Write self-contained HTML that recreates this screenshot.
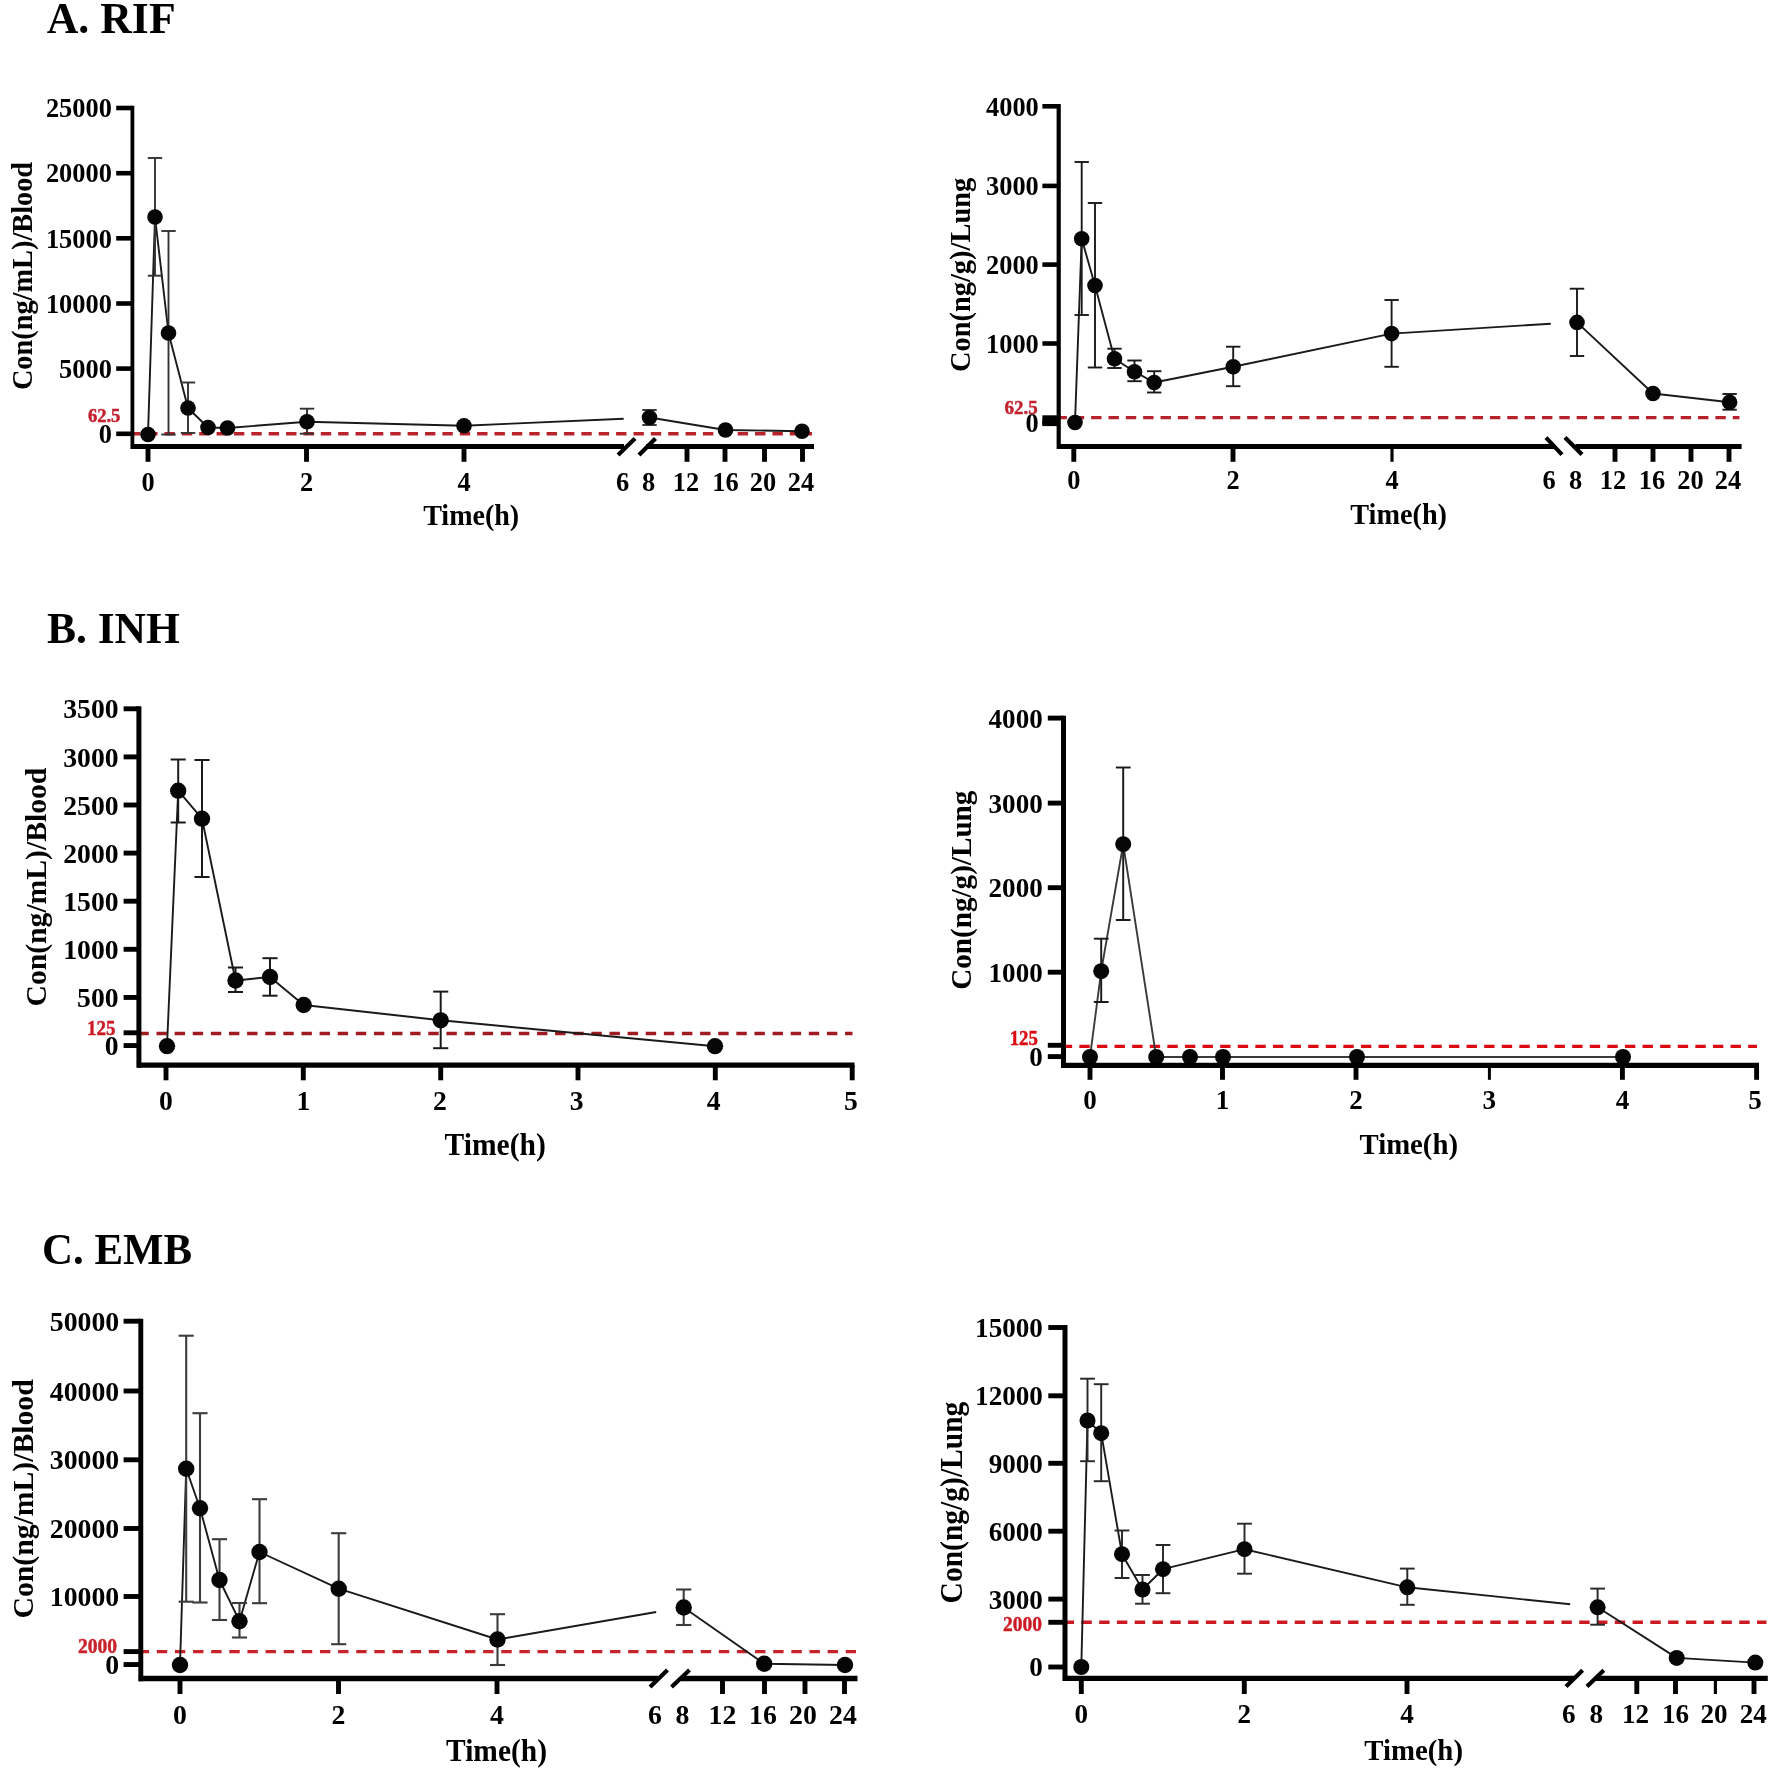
<!DOCTYPE html>
<html><head><meta charset="utf-8"><title>Figure</title>
<style>html,body{margin:0;padding:0;background:#fff}svg{display:block;filter:blur(0.55px)}text{font-family:'Liberation Serif', serif;font-weight:bold}</style>
</head><body>
<svg width="1772" height="1769" viewBox="0 0 1772 1769">
<rect width="1772" height="1769" fill="#fff"/>
<text x="46.70" y="32.90" font-size="44.8" text-anchor="start" fill="#000" textLength="129.0" lengthAdjust="spacingAndGlyphs">A. RIF</text>
<text x="46.90" y="643.00" font-size="44.8" text-anchor="start" fill="#000" textLength="133.0" lengthAdjust="spacingAndGlyphs">B. INH</text>
<text x="42.00" y="1264.20" font-size="44.8" text-anchor="start" fill="#000" textLength="150.0" lengthAdjust="spacingAndGlyphs">C. EMB</text>
<line x1="133.00" y1="433.80" x2="812.00" y2="433.80" stroke="#b8232c" stroke-width="3.4" stroke-dasharray="10.4 6.97" stroke-dashoffset="3.27"/>
<polyline points="148.00,434.50 155.00,217.00 168.50,333.00 188.00,408.00 208.00,427.50 227.50,428.00 307.00,421.70 464.00,425.70 623.70,418.70" fill="none" stroke="#1a1a1a" stroke-width="1.9" stroke-linejoin="round"/>
<polyline points="649.50,417.50 725.50,430.00 802.00,431.20" fill="none" stroke="#1a1a1a" stroke-width="1.9" stroke-linejoin="round"/>
<line x1="155.00" y1="158.00" x2="155.00" y2="275.70" stroke="#333" stroke-width="1.9" />
<line x1="147.80" y1="158.00" x2="162.20" y2="158.00" stroke="#333" stroke-width="1.9" />
<line x1="147.80" y1="275.70" x2="162.20" y2="275.70" stroke="#333" stroke-width="1.9" />
<line x1="168.50" y1="231.00" x2="168.50" y2="434.50" stroke="#333" stroke-width="1.9" />
<line x1="161.30" y1="231.00" x2="175.70" y2="231.00" stroke="#333" stroke-width="1.9" />
<line x1="161.30" y1="434.50" x2="175.70" y2="434.50" stroke="#333" stroke-width="1.9" />
<line x1="188.00" y1="382.50" x2="188.00" y2="433.00" stroke="#333" stroke-width="1.9" />
<line x1="180.80" y1="382.50" x2="195.20" y2="382.50" stroke="#333" stroke-width="1.9" />
<line x1="180.80" y1="433.00" x2="195.20" y2="433.00" stroke="#333" stroke-width="1.9" />
<line x1="307.00" y1="408.70" x2="307.00" y2="433.70" stroke="#333" stroke-width="1.9" />
<line x1="299.80" y1="408.70" x2="314.20" y2="408.70" stroke="#333" stroke-width="1.9" />
<line x1="299.80" y1="433.70" x2="314.20" y2="433.70" stroke="#333" stroke-width="1.9" />
<line x1="649.50" y1="410.00" x2="649.50" y2="425.00" stroke="#333" stroke-width="1.9" />
<line x1="642.30" y1="410.00" x2="656.70" y2="410.00" stroke="#333" stroke-width="1.9" />
<line x1="642.30" y1="425.00" x2="656.70" y2="425.00" stroke="#333" stroke-width="1.9" />
<circle cx="148.00" cy="434.50" r="7.80" fill="#060606"/>
<circle cx="155.00" cy="217.00" r="7.80" fill="#060606"/>
<circle cx="168.50" cy="333.00" r="7.80" fill="#060606"/>
<circle cx="188.00" cy="408.00" r="7.80" fill="#060606"/>
<circle cx="208.00" cy="427.50" r="7.80" fill="#060606"/>
<circle cx="227.50" cy="428.00" r="7.80" fill="#060606"/>
<circle cx="307.00" cy="421.70" r="7.80" fill="#060606"/>
<circle cx="464.00" cy="425.70" r="7.80" fill="#060606"/>
<circle cx="649.50" cy="417.50" r="7.80" fill="#060606"/>
<circle cx="725.50" cy="430.00" r="7.80" fill="#060606"/>
<circle cx="802.00" cy="431.20" r="7.80" fill="#060606"/>
<line x1="132.40" y1="105.70" x2="132.40" y2="449.00" stroke="#000" stroke-width="3.8" />
<line x1="116.20" y1="108.00" x2="132.40" y2="108.00" stroke="#000" stroke-width="4.6" />
<text x="111.90" y="117.20" font-size="26.4" text-anchor="end" fill="#000">25000</text>
<line x1="116.20" y1="173.20" x2="132.40" y2="173.20" stroke="#000" stroke-width="4.6" />
<text x="111.90" y="182.40" font-size="26.4" text-anchor="end" fill="#000">20000</text>
<line x1="116.20" y1="238.30" x2="132.40" y2="238.30" stroke="#000" stroke-width="4.6" />
<text x="111.90" y="247.50" font-size="26.4" text-anchor="end" fill="#000">15000</text>
<line x1="116.20" y1="303.50" x2="132.40" y2="303.50" stroke="#000" stroke-width="4.6" />
<text x="111.90" y="312.70" font-size="26.4" text-anchor="end" fill="#000">10000</text>
<line x1="116.20" y1="368.60" x2="132.40" y2="368.60" stroke="#000" stroke-width="4.6" />
<text x="111.90" y="377.80" font-size="26.4" text-anchor="end" fill="#000">5000</text>
<line x1="116.20" y1="433.80" x2="132.40" y2="433.80" stroke="#000" stroke-width="4.6" />
<text x="111.90" y="443.00" font-size="26.4" text-anchor="end" fill="#000">0</text>
<line x1="130.90" y1="446.50" x2="624.00" y2="446.50" stroke="#000" stroke-width="5" />
<line x1="646.00" y1="446.50" x2="814.00" y2="446.50" stroke="#000" stroke-width="5" />
<line x1="148.00" y1="446.50" x2="148.00" y2="461.80" stroke="#000" stroke-width="4.9" />
<line x1="306.50" y1="446.50" x2="306.50" y2="461.80" stroke="#000" stroke-width="4.9" />
<line x1="464.00" y1="446.50" x2="464.00" y2="461.80" stroke="#000" stroke-width="4.9" />
<line x1="687.00" y1="446.50" x2="687.00" y2="461.80" stroke="#000" stroke-width="4.9" />
<line x1="725.00" y1="446.50" x2="725.00" y2="461.80" stroke="#000" stroke-width="4.9" />
<line x1="764.50" y1="446.50" x2="764.50" y2="461.80" stroke="#000" stroke-width="4.9" />
<line x1="802.50" y1="446.50" x2="802.50" y2="461.80" stroke="#000" stroke-width="4.9" />
<text x="148.00" y="490.60" font-size="26.4" text-anchor="middle" fill="#000">0</text>
<text x="306.50" y="490.60" font-size="26.4" text-anchor="middle" fill="#000">2</text>
<text x="464.00" y="490.60" font-size="26.4" text-anchor="middle" fill="#000">4</text>
<text x="622.50" y="490.60" font-size="26.4" text-anchor="middle" fill="#000">6</text>
<text x="648.70" y="490.60" font-size="26.4" text-anchor="middle" fill="#000">8</text>
<text x="686.00" y="490.60" font-size="26.4" text-anchor="middle" fill="#000">12</text>
<text x="725.50" y="490.60" font-size="26.4" text-anchor="middle" fill="#000">16</text>
<text x="763.00" y="490.60" font-size="26.4" text-anchor="middle" fill="#000">20</text>
<text x="801.00" y="490.60" font-size="26.4" text-anchor="middle" fill="#000">24</text>
<line x1="618.00" y1="455.00" x2="635.00" y2="438.50" stroke="#000" stroke-width="4.2" />
<line x1="639.00" y1="455.00" x2="655.50" y2="438.50" stroke="#000" stroke-width="4.2" />
<text x="120.40" y="422.20" font-size="18.5" text-anchor="end" fill="#c4202e" stroke="#c4202e" stroke-width="0.45" textLength="32.5" lengthAdjust="spacingAndGlyphs">62.5</text>
<text x="471.20" y="525.30" font-size="29.5" text-anchor="middle" fill="#000" textLength="96.0" lengthAdjust="spacingAndGlyphs">Time(h)</text>
<text x="32.10" y="276.00" font-size="29.4" text-anchor="middle" fill="#000" textLength="228.2" lengthAdjust="spacingAndGlyphs" transform="rotate(-90 32.10 276.00)">Con(ng/mL)/Blood</text>
<line x1="1059.50" y1="417.60" x2="1739.50" y2="417.60" stroke="#b5222b" stroke-width="3.4" stroke-dasharray="10.4 6.94" stroke-dashoffset="3.04"/>
<polyline points="1075.00,422.50 1081.70,238.70 1095.00,285.50 1114.50,358.70 1134.50,371.70 1154.20,382.50 1233.20,366.70 1391.60,333.60 1550.80,323.70" fill="none" stroke="#1a1a1a" stroke-width="1.9" stroke-linejoin="round"/>
<polyline points="1577.00,322.40 1653.00,393.50 1729.60,402.20" fill="none" stroke="#1a1a1a" stroke-width="1.9" stroke-linejoin="round"/>
<line x1="1081.70" y1="162.00" x2="1081.70" y2="315.00" stroke="#1a1a1a" stroke-width="1.9" />
<line x1="1074.50" y1="162.00" x2="1088.90" y2="162.00" stroke="#1a1a1a" stroke-width="1.9" />
<line x1="1074.50" y1="315.00" x2="1088.90" y2="315.00" stroke="#1a1a1a" stroke-width="1.9" />
<line x1="1095.00" y1="203.00" x2="1095.00" y2="367.50" stroke="#1a1a1a" stroke-width="1.9" />
<line x1="1087.80" y1="203.00" x2="1102.20" y2="203.00" stroke="#1a1a1a" stroke-width="1.9" />
<line x1="1087.80" y1="367.50" x2="1102.20" y2="367.50" stroke="#1a1a1a" stroke-width="1.9" />
<line x1="1114.50" y1="348.70" x2="1114.50" y2="368.00" stroke="#1a1a1a" stroke-width="1.9" />
<line x1="1107.30" y1="348.70" x2="1121.70" y2="348.70" stroke="#1a1a1a" stroke-width="1.9" />
<line x1="1107.30" y1="368.00" x2="1121.70" y2="368.00" stroke="#1a1a1a" stroke-width="1.9" />
<line x1="1134.50" y1="360.50" x2="1134.50" y2="381.20" stroke="#1a1a1a" stroke-width="1.9" />
<line x1="1127.30" y1="360.50" x2="1141.70" y2="360.50" stroke="#1a1a1a" stroke-width="1.9" />
<line x1="1127.30" y1="381.20" x2="1141.70" y2="381.20" stroke="#1a1a1a" stroke-width="1.9" />
<line x1="1154.20" y1="371.20" x2="1154.20" y2="392.50" stroke="#1a1a1a" stroke-width="1.9" />
<line x1="1147.00" y1="371.20" x2="1161.40" y2="371.20" stroke="#1a1a1a" stroke-width="1.9" />
<line x1="1147.00" y1="392.50" x2="1161.40" y2="392.50" stroke="#1a1a1a" stroke-width="1.9" />
<line x1="1233.20" y1="346.70" x2="1233.20" y2="386.20" stroke="#1a1a1a" stroke-width="1.9" />
<line x1="1226.00" y1="346.70" x2="1240.40" y2="346.70" stroke="#1a1a1a" stroke-width="1.9" />
<line x1="1226.00" y1="386.20" x2="1240.40" y2="386.20" stroke="#1a1a1a" stroke-width="1.9" />
<line x1="1391.60" y1="300.00" x2="1391.60" y2="366.80" stroke="#1a1a1a" stroke-width="1.9" />
<line x1="1384.40" y1="300.00" x2="1398.80" y2="300.00" stroke="#1a1a1a" stroke-width="1.9" />
<line x1="1384.40" y1="366.80" x2="1398.80" y2="366.80" stroke="#1a1a1a" stroke-width="1.9" />
<line x1="1577.00" y1="288.70" x2="1577.00" y2="356.00" stroke="#1a1a1a" stroke-width="1.9" />
<line x1="1569.80" y1="288.70" x2="1584.20" y2="288.70" stroke="#1a1a1a" stroke-width="1.9" />
<line x1="1569.80" y1="356.00" x2="1584.20" y2="356.00" stroke="#1a1a1a" stroke-width="1.9" />
<line x1="1729.60" y1="394.00" x2="1729.60" y2="409.70" stroke="#1a1a1a" stroke-width="1.9" />
<line x1="1722.40" y1="394.00" x2="1736.80" y2="394.00" stroke="#1a1a1a" stroke-width="1.9" />
<line x1="1722.40" y1="409.70" x2="1736.80" y2="409.70" stroke="#1a1a1a" stroke-width="1.9" />
<circle cx="1075.00" cy="422.50" r="7.80" fill="#060606"/>
<circle cx="1081.70" cy="238.70" r="7.80" fill="#060606"/>
<circle cx="1095.00" cy="285.50" r="7.80" fill="#060606"/>
<circle cx="1114.50" cy="358.70" r="7.80" fill="#060606"/>
<circle cx="1134.50" cy="371.70" r="7.80" fill="#060606"/>
<circle cx="1154.20" cy="382.50" r="7.80" fill="#060606"/>
<circle cx="1233.20" cy="366.70" r="7.80" fill="#060606"/>
<circle cx="1391.60" cy="333.60" r="7.80" fill="#060606"/>
<circle cx="1577.00" cy="322.40" r="7.80" fill="#060606"/>
<circle cx="1653.00" cy="393.50" r="7.80" fill="#060606"/>
<circle cx="1729.60" cy="402.20" r="7.80" fill="#060606"/>
<line x1="1058.70" y1="104.00" x2="1058.70" y2="449.10" stroke="#000" stroke-width="4.2" />
<line x1="1042.40" y1="106.30" x2="1058.70" y2="106.30" stroke="#000" stroke-width="4.6" />
<text x="1038.80" y="115.50" font-size="26.4" text-anchor="end" fill="#000">4000</text>
<line x1="1042.40" y1="185.90" x2="1058.70" y2="185.90" stroke="#000" stroke-width="4.6" />
<text x="1038.80" y="195.10" font-size="26.4" text-anchor="end" fill="#000">3000</text>
<line x1="1042.40" y1="264.60" x2="1058.70" y2="264.60" stroke="#000" stroke-width="4.6" />
<text x="1038.80" y="273.80" font-size="26.4" text-anchor="end" fill="#000">2000</text>
<line x1="1042.40" y1="343.50" x2="1058.70" y2="343.50" stroke="#000" stroke-width="4.6" />
<text x="1038.80" y="352.70" font-size="26.4" text-anchor="end" fill="#000">1000</text>
<line x1="1042.40" y1="422.80" x2="1058.70" y2="422.80" stroke="#000" stroke-width="4.6" />
<text x="1038.80" y="432.00" font-size="26.4" text-anchor="end" fill="#000">0</text>
<line x1="1042.40" y1="417.60" x2="1058.70" y2="417.60" stroke="#000" stroke-width="4.6" />
<line x1="1042.40" y1="420.60" x2="1058.70" y2="420.60" stroke="#000" stroke-width="4.6" />
<line x1="1042.40" y1="423.80" x2="1058.70" y2="423.80" stroke="#000" stroke-width="4.6" />
<line x1="1057.40" y1="446.60" x2="1554.00" y2="446.60" stroke="#000" stroke-width="5" />
<line x1="1575.50" y1="446.60" x2="1741.60" y2="446.60" stroke="#000" stroke-width="5" />
<line x1="1073.80" y1="446.60" x2="1073.80" y2="461.80" stroke="#000" stroke-width="4.9" />
<line x1="1233.00" y1="446.60" x2="1233.00" y2="461.80" stroke="#000" stroke-width="4.9" />
<line x1="1392.00" y1="446.60" x2="1392.00" y2="461.80" stroke="#000" stroke-width="3.2" />
<line x1="1615.00" y1="446.60" x2="1615.00" y2="461.80" stroke="#000" stroke-width="4.9" />
<line x1="1653.00" y1="446.60" x2="1653.00" y2="461.80" stroke="#000" stroke-width="4.9" />
<line x1="1691.00" y1="446.60" x2="1691.00" y2="461.80" stroke="#000" stroke-width="4.9" />
<line x1="1729.00" y1="446.60" x2="1729.00" y2="461.80" stroke="#000" stroke-width="4.9" />
<text x="1073.80" y="489.40" font-size="26.4" text-anchor="middle" fill="#000">0</text>
<text x="1233.00" y="489.40" font-size="26.4" text-anchor="middle" fill="#000">2</text>
<text x="1392.00" y="489.40" font-size="26.4" text-anchor="middle" fill="#000">4</text>
<text x="1549.00" y="489.40" font-size="26.4" text-anchor="middle" fill="#000">6</text>
<text x="1575.70" y="489.40" font-size="26.4" text-anchor="middle" fill="#000">8</text>
<text x="1613.00" y="489.40" font-size="26.4" text-anchor="middle" fill="#000">12</text>
<text x="1652.00" y="489.40" font-size="26.4" text-anchor="middle" fill="#000">16</text>
<text x="1690.40" y="489.40" font-size="26.4" text-anchor="middle" fill="#000">20</text>
<text x="1728.00" y="489.40" font-size="26.4" text-anchor="middle" fill="#000">24</text>
<line x1="1546.00" y1="437.60" x2="1562.00" y2="454.60" stroke="#000" stroke-width="4.2" />
<line x1="1565.00" y1="437.60" x2="1582.00" y2="454.60" stroke="#000" stroke-width="4.2" />
<text x="1037.80" y="413.70" font-size="19.3" text-anchor="end" fill="#c4202e" stroke="#c4202e" stroke-width="0.45" textLength="33.2" lengthAdjust="spacingAndGlyphs">62.5</text>
<text x="1398.65" y="523.80" font-size="29.5" text-anchor="middle" fill="#000" textLength="96.7" lengthAdjust="spacingAndGlyphs">Time(h)</text>
<text x="970.00" y="274.90" font-size="28.9" text-anchor="middle" fill="#000" textLength="194.2" lengthAdjust="spacingAndGlyphs" transform="rotate(-90 970.00 274.90)">Con(ng/g)/Lung</text>
<line x1="138.50" y1="1033.50" x2="852.50" y2="1033.50" stroke="#a01a22" stroke-width="3.4" stroke-dasharray="10.4 7.72" stroke-dashoffset="0.12"/>
<polyline points="167.00,1046.20 178.20,790.70 202.00,818.70 235.50,980.50 270.00,977.00 303.70,1005.00 440.70,1020.30 715.00,1046.20" fill="none" stroke="#1a1a1a" stroke-width="1.9" stroke-linejoin="round"/>
<line x1="178.20" y1="759.50" x2="178.20" y2="822.50" stroke="#1a1a1a" stroke-width="1.9912" />
<line x1="170.65" y1="759.50" x2="185.75" y2="759.50" stroke="#1a1a1a" stroke-width="1.9912" />
<line x1="170.65" y1="822.50" x2="185.75" y2="822.50" stroke="#1a1a1a" stroke-width="1.9912" />
<line x1="202.00" y1="760.00" x2="202.00" y2="877.00" stroke="#1a1a1a" stroke-width="1.9912" />
<line x1="194.45" y1="760.00" x2="209.55" y2="760.00" stroke="#1a1a1a" stroke-width="1.9912" />
<line x1="194.45" y1="877.00" x2="209.55" y2="877.00" stroke="#1a1a1a" stroke-width="1.9912" />
<line x1="235.50" y1="967.50" x2="235.50" y2="992.00" stroke="#1a1a1a" stroke-width="1.9912" />
<line x1="227.95" y1="967.50" x2="243.05" y2="967.50" stroke="#1a1a1a" stroke-width="1.9912" />
<line x1="227.95" y1="992.00" x2="243.05" y2="992.00" stroke="#1a1a1a" stroke-width="1.9912" />
<line x1="270.00" y1="958.20" x2="270.00" y2="995.70" stroke="#1a1a1a" stroke-width="1.9912" />
<line x1="262.45" y1="958.20" x2="277.55" y2="958.20" stroke="#1a1a1a" stroke-width="1.9912" />
<line x1="262.45" y1="995.70" x2="277.55" y2="995.70" stroke="#1a1a1a" stroke-width="1.9912" />
<line x1="440.70" y1="991.60" x2="440.70" y2="1048.20" stroke="#1a1a1a" stroke-width="1.9912" />
<line x1="433.15" y1="991.60" x2="448.25" y2="991.60" stroke="#1a1a1a" stroke-width="1.9912" />
<line x1="433.15" y1="1048.20" x2="448.25" y2="1048.20" stroke="#1a1a1a" stroke-width="1.9912" />
<circle cx="167.00" cy="1046.20" r="8.17" fill="#060606"/>
<circle cx="178.20" cy="790.70" r="8.17" fill="#060606"/>
<circle cx="202.00" cy="818.70" r="8.17" fill="#060606"/>
<circle cx="235.50" cy="980.50" r="8.17" fill="#060606"/>
<circle cx="270.00" cy="977.00" r="8.17" fill="#060606"/>
<circle cx="303.70" cy="1005.00" r="8.17" fill="#060606"/>
<circle cx="440.70" cy="1020.30" r="8.17" fill="#060606"/>
<circle cx="715.00" cy="1046.20" r="8.17" fill="#060606"/>
<line x1="138.90" y1="706.35" x2="138.90" y2="1067.85" stroke="#000" stroke-width="5.0" />
<line x1="123.60" y1="708.80" x2="138.90" y2="708.80" stroke="#000" stroke-width="4.9" />
<text x="118.60" y="718.44" font-size="27.67" text-anchor="end" fill="#000">3500</text>
<line x1="123.60" y1="756.90" x2="138.90" y2="756.90" stroke="#000" stroke-width="4.9" />
<text x="118.60" y="766.54" font-size="27.67" text-anchor="end" fill="#000">3000</text>
<line x1="123.60" y1="805.00" x2="138.90" y2="805.00" stroke="#000" stroke-width="4.9" />
<text x="118.60" y="814.64" font-size="27.67" text-anchor="end" fill="#000">2500</text>
<line x1="123.60" y1="853.10" x2="138.90" y2="853.10" stroke="#000" stroke-width="4.9" />
<text x="118.60" y="862.74" font-size="27.67" text-anchor="end" fill="#000">2000</text>
<line x1="123.60" y1="901.20" x2="138.90" y2="901.20" stroke="#000" stroke-width="4.9" />
<text x="118.60" y="910.84" font-size="27.67" text-anchor="end" fill="#000">1500</text>
<line x1="123.60" y1="949.30" x2="138.90" y2="949.30" stroke="#000" stroke-width="4.9" />
<text x="118.60" y="958.94" font-size="27.67" text-anchor="end" fill="#000">1000</text>
<line x1="123.60" y1="997.45" x2="138.90" y2="997.45" stroke="#000" stroke-width="4.9" />
<text x="118.60" y="1007.09" font-size="27.67" text-anchor="end" fill="#000">500</text>
<line x1="123.60" y1="1032.80" x2="138.90" y2="1032.80" stroke="#000" stroke-width="4.9" />
<line x1="123.60" y1="1045.55" x2="138.90" y2="1045.55" stroke="#000" stroke-width="4.9" />
<text x="118.60" y="1055.19" font-size="27.67" text-anchor="end" fill="#000">0</text>
<line x1="137.60" y1="1065.20" x2="854.50" y2="1065.20" stroke="#000" stroke-width="5.3" />
<line x1="166.00" y1="1065.20" x2="166.00" y2="1080.30" stroke="#000" stroke-width="4.9" />
<line x1="303.30" y1="1065.20" x2="303.30" y2="1080.30" stroke="#000" stroke-width="4.9" />
<line x1="440.70" y1="1065.20" x2="440.70" y2="1080.30" stroke="#000" stroke-width="4.9" />
<line x1="578.00" y1="1065.20" x2="578.00" y2="1080.30" stroke="#000" stroke-width="4.9" />
<line x1="715.30" y1="1065.20" x2="715.30" y2="1080.30" stroke="#000" stroke-width="4.9" />
<line x1="852.20" y1="1065.20" x2="852.20" y2="1080.30" stroke="#000" stroke-width="4.9" />
<text x="166.00" y="1109.60" font-size="27.67" text-anchor="middle" fill="#000">0</text>
<text x="303.30" y="1109.60" font-size="27.67" text-anchor="middle" fill="#000">1</text>
<text x="440.00" y="1109.60" font-size="27.67" text-anchor="middle" fill="#000">2</text>
<text x="576.70" y="1109.60" font-size="27.67" text-anchor="middle" fill="#000">3</text>
<text x="713.60" y="1109.60" font-size="27.67" text-anchor="middle" fill="#000">4</text>
<text x="850.80" y="1109.60" font-size="27.67" text-anchor="middle" fill="#000">5</text>
<text x="115.60" y="1034.70" font-size="21.5" text-anchor="end" fill="#cc1a26" stroke="#cc1a26" stroke-width="0.45" textLength="28.5" lengthAdjust="spacingAndGlyphs">125</text>
<text x="495.25" y="1154.80" font-size="30.92" text-anchor="middle" fill="#000" textLength="101.3" lengthAdjust="spacingAndGlyphs">Time(h)</text>
<text x="45.60" y="887.10" font-size="29.4" text-anchor="middle" fill="#000" textLength="238.7" lengthAdjust="spacingAndGlyphs" transform="rotate(-90 45.60 887.10)">Con(ng/mL)/Blood</text>
<line x1="1062.50" y1="1046.40" x2="1757.00" y2="1046.40" stroke="#dc0a10" stroke-width="3.4" stroke-dasharray="10.4 7.20" stroke-dashoffset="0.75"/>
<polyline points="1090.00,1057.00 1101.20,971.20 1123.20,844.20 1156.20,1057.00 1190.00,1057.00 1223.00,1057.00 1357.00,1057.00 1623.00,1057.00" fill="none" stroke="#3a3a3a" stroke-width="1.9" stroke-linejoin="round"/>
<line x1="1101.20" y1="938.70" x2="1101.20" y2="1002.00" stroke="#1a1a1a" stroke-width="1.9474999999999998" />
<line x1="1093.82" y1="938.70" x2="1108.58" y2="938.70" stroke="#1a1a1a" stroke-width="1.9474999999999998" />
<line x1="1093.82" y1="1002.00" x2="1108.58" y2="1002.00" stroke="#1a1a1a" stroke-width="1.9474999999999998" />
<line x1="1123.20" y1="767.50" x2="1123.20" y2="920.00" stroke="#1a1a1a" stroke-width="1.9474999999999998" />
<line x1="1115.82" y1="767.50" x2="1130.58" y2="767.50" stroke="#1a1a1a" stroke-width="1.9474999999999998" />
<line x1="1115.82" y1="920.00" x2="1130.58" y2="920.00" stroke="#1a1a1a" stroke-width="1.9474999999999998" />
<circle cx="1090.00" cy="1057.00" r="7.99" fill="#060606"/>
<circle cx="1101.20" cy="971.20" r="7.99" fill="#060606"/>
<circle cx="1123.20" cy="844.20" r="7.99" fill="#060606"/>
<circle cx="1156.20" cy="1057.00" r="7.99" fill="#060606"/>
<circle cx="1190.00" cy="1057.00" r="7.99" fill="#060606"/>
<circle cx="1223.00" cy="1057.00" r="7.99" fill="#060606"/>
<circle cx="1357.00" cy="1057.00" r="7.99" fill="#060606"/>
<circle cx="1623.00" cy="1057.00" r="7.99" fill="#060606"/>
<line x1="1063.50" y1="715.65" x2="1063.50" y2="1067.90" stroke="#000" stroke-width="5.0" />
<line x1="1047.80" y1="718.10" x2="1063.50" y2="718.10" stroke="#000" stroke-width="4.9" />
<text x="1042.70" y="727.53" font-size="27.06" text-anchor="end" fill="#000">4000</text>
<line x1="1047.80" y1="803.10" x2="1063.50" y2="803.10" stroke="#000" stroke-width="4.9" />
<text x="1042.70" y="812.53" font-size="27.06" text-anchor="end" fill="#000">3000</text>
<line x1="1047.80" y1="887.70" x2="1063.50" y2="887.70" stroke="#000" stroke-width="4.9" />
<text x="1042.70" y="897.13" font-size="27.06" text-anchor="end" fill="#000">2000</text>
<line x1="1047.80" y1="972.20" x2="1063.50" y2="972.20" stroke="#000" stroke-width="4.9" />
<text x="1042.70" y="981.63" font-size="27.06" text-anchor="end" fill="#000">1000</text>
<line x1="1047.80" y1="1045.30" x2="1063.50" y2="1045.30" stroke="#000" stroke-width="4.9" />
<line x1="1047.80" y1="1056.60" x2="1063.50" y2="1056.60" stroke="#000" stroke-width="4.9" />
<text x="1042.70" y="1066.03" font-size="27.06" text-anchor="end" fill="#000">0</text>
<line x1="1061.60" y1="1065.30" x2="1759.00" y2="1065.30" stroke="#000" stroke-width="5.2" />
<line x1="1090.00" y1="1065.30" x2="1090.00" y2="1079.80" stroke="#000" stroke-width="4.9" />
<line x1="1222.50" y1="1065.30" x2="1222.50" y2="1079.80" stroke="#000" stroke-width="4.9" />
<line x1="1356.00" y1="1065.30" x2="1356.00" y2="1079.80" stroke="#000" stroke-width="4.9" />
<line x1="1489.40" y1="1065.30" x2="1489.40" y2="1079.80" stroke="#000" stroke-width="3.0" />
<line x1="1622.40" y1="1065.30" x2="1622.40" y2="1079.80" stroke="#000" stroke-width="4.9" />
<line x1="1756.60" y1="1065.30" x2="1756.60" y2="1079.80" stroke="#000" stroke-width="4.9" />
<text x="1090.00" y="1108.60" font-size="27.06" text-anchor="middle" fill="#000">0</text>
<text x="1222.50" y="1108.60" font-size="27.06" text-anchor="middle" fill="#000">1</text>
<text x="1356.00" y="1108.60" font-size="27.06" text-anchor="middle" fill="#000">2</text>
<text x="1489.20" y="1108.60" font-size="27.06" text-anchor="middle" fill="#000">3</text>
<text x="1622.40" y="1108.60" font-size="27.06" text-anchor="middle" fill="#000">4</text>
<text x="1755.00" y="1108.60" font-size="27.06" text-anchor="middle" fill="#000">5</text>
<text x="1038.00" y="1044.80" font-size="21.5" text-anchor="end" fill="#dc0a10" stroke="#dc0a10" stroke-width="0.45" textLength="28.3" lengthAdjust="spacingAndGlyphs">125</text>
<text x="1408.75" y="1153.80" font-size="30.24" text-anchor="middle" fill="#000" textLength="98.5" lengthAdjust="spacingAndGlyphs">Time(h)</text>
<text x="971.50" y="890.20" font-size="30.3" text-anchor="middle" fill="#000" textLength="199.2" lengthAdjust="spacingAndGlyphs" transform="rotate(-90 971.50 890.20)">Con(ng/g)/Lung</text>
<line x1="139.50" y1="1651.60" x2="856.00" y2="1651.60" stroke="#c8222a" stroke-width="3.4" stroke-dasharray="10.4 7.73" stroke-dashoffset="0.83"/>
<polyline points="180.00,1665.00 186.20,1468.70 200.00,1508.20 219.50,1580.00 239.50,1621.20 259.50,1552.00 338.70,1588.70 497.50,1639.50 656.20,1612.00" fill="none" stroke="#1a1a1a" stroke-width="1.9" stroke-linejoin="round"/>
<polyline points="683.70,1607.50 764.20,1663.70 845.00,1665.00" fill="none" stroke="#1a1a1a" stroke-width="1.9" stroke-linejoin="round"/>
<line x1="186.20" y1="1335.70" x2="186.20" y2="1601.70" stroke="#3c3c3c" stroke-width="2.104" />
<line x1="178.63" y1="1335.70" x2="193.77" y2="1335.70" stroke="#3c3c3c" stroke-width="2.104" />
<line x1="178.63" y1="1601.70" x2="193.77" y2="1601.70" stroke="#3c3c3c" stroke-width="2.104" />
<line x1="200.00" y1="1413.20" x2="200.00" y2="1602.50" stroke="#3c3c3c" stroke-width="2.104" />
<line x1="192.43" y1="1413.20" x2="207.57" y2="1413.20" stroke="#3c3c3c" stroke-width="2.104" />
<line x1="192.43" y1="1602.50" x2="207.57" y2="1602.50" stroke="#3c3c3c" stroke-width="2.104" />
<line x1="219.50" y1="1539.20" x2="219.50" y2="1620.00" stroke="#3c3c3c" stroke-width="2.104" />
<line x1="211.93" y1="1539.20" x2="227.07" y2="1539.20" stroke="#3c3c3c" stroke-width="2.104" />
<line x1="211.93" y1="1620.00" x2="227.07" y2="1620.00" stroke="#3c3c3c" stroke-width="2.104" />
<line x1="239.50" y1="1603.00" x2="239.50" y2="1637.50" stroke="#3c3c3c" stroke-width="2.104" />
<line x1="231.93" y1="1603.00" x2="247.07" y2="1603.00" stroke="#3c3c3c" stroke-width="2.104" />
<line x1="231.93" y1="1637.50" x2="247.07" y2="1637.50" stroke="#3c3c3c" stroke-width="2.104" />
<line x1="259.50" y1="1499.20" x2="259.50" y2="1603.20" stroke="#3c3c3c" stroke-width="2.104" />
<line x1="251.93" y1="1499.20" x2="267.07" y2="1499.20" stroke="#3c3c3c" stroke-width="2.104" />
<line x1="251.93" y1="1603.20" x2="267.07" y2="1603.20" stroke="#3c3c3c" stroke-width="2.104" />
<line x1="338.70" y1="1533.20" x2="338.70" y2="1644.20" stroke="#3c3c3c" stroke-width="2.104" />
<line x1="331.13" y1="1533.20" x2="346.27" y2="1533.20" stroke="#3c3c3c" stroke-width="2.104" />
<line x1="331.13" y1="1644.20" x2="346.27" y2="1644.20" stroke="#3c3c3c" stroke-width="2.104" />
<line x1="497.50" y1="1614.20" x2="497.50" y2="1665.00" stroke="#3c3c3c" stroke-width="2.104" />
<line x1="489.93" y1="1614.20" x2="505.07" y2="1614.20" stroke="#3c3c3c" stroke-width="2.104" />
<line x1="489.93" y1="1665.00" x2="505.07" y2="1665.00" stroke="#3c3c3c" stroke-width="2.104" />
<line x1="683.70" y1="1589.50" x2="683.70" y2="1625.00" stroke="#3c3c3c" stroke-width="2.104" />
<line x1="676.13" y1="1589.50" x2="691.27" y2="1589.50" stroke="#3c3c3c" stroke-width="2.104" />
<line x1="676.13" y1="1625.00" x2="691.27" y2="1625.00" stroke="#3c3c3c" stroke-width="2.104" />
<circle cx="180.00" cy="1665.00" r="8.21" fill="#060606"/>
<circle cx="186.20" cy="1468.70" r="8.21" fill="#060606"/>
<circle cx="200.00" cy="1508.20" r="8.21" fill="#060606"/>
<circle cx="219.50" cy="1580.00" r="8.21" fill="#060606"/>
<circle cx="239.50" cy="1621.20" r="8.21" fill="#060606"/>
<circle cx="259.50" cy="1552.00" r="8.21" fill="#060606"/>
<circle cx="338.70" cy="1588.70" r="8.21" fill="#060606"/>
<circle cx="497.50" cy="1639.50" r="8.21" fill="#060606"/>
<circle cx="683.70" cy="1607.50" r="8.21" fill="#060606"/>
<circle cx="764.20" cy="1663.70" r="8.21" fill="#060606"/>
<circle cx="845.00" cy="1665.00" r="8.21" fill="#060606"/>
<line x1="140.80" y1="1318.75" x2="140.80" y2="1681.20" stroke="#000" stroke-width="4.9" />
<line x1="123.60" y1="1321.20" x2="140.80" y2="1321.20" stroke="#000" stroke-width="4.9" />
<text x="119.20" y="1330.88" font-size="27.77" text-anchor="end" fill="#000">50000</text>
<line x1="123.60" y1="1391.00" x2="140.80" y2="1391.00" stroke="#000" stroke-width="4.9" />
<text x="119.20" y="1400.68" font-size="27.77" text-anchor="end" fill="#000">40000</text>
<line x1="123.60" y1="1459.80" x2="140.80" y2="1459.80" stroke="#000" stroke-width="4.9" />
<text x="119.20" y="1469.48" font-size="27.77" text-anchor="end" fill="#000">30000</text>
<line x1="123.60" y1="1528.50" x2="140.80" y2="1528.50" stroke="#000" stroke-width="4.9" />
<text x="119.20" y="1538.18" font-size="27.77" text-anchor="end" fill="#000">20000</text>
<line x1="123.60" y1="1596.50" x2="140.80" y2="1596.50" stroke="#000" stroke-width="4.9" />
<text x="119.20" y="1606.18" font-size="27.77" text-anchor="end" fill="#000">10000</text>
<line x1="123.60" y1="1651.60" x2="140.80" y2="1651.60" stroke="#000" stroke-width="4.9" />
<line x1="123.60" y1="1664.55" x2="140.80" y2="1664.55" stroke="#000" stroke-width="4.9" />
<text x="119.20" y="1674.23" font-size="27.77" text-anchor="end" fill="#000">0</text>
<line x1="138.70" y1="1678.50" x2="658.00" y2="1678.50" stroke="#000" stroke-width="5.4" />
<line x1="681.00" y1="1678.50" x2="857.50" y2="1678.50" stroke="#000" stroke-width="5.4" />
<line x1="180.00" y1="1678.50" x2="180.00" y2="1694.00" stroke="#000" stroke-width="4.9" />
<line x1="338.50" y1="1678.50" x2="338.50" y2="1694.00" stroke="#000" stroke-width="4.9" />
<line x1="497.00" y1="1678.50" x2="497.00" y2="1694.00" stroke="#000" stroke-width="4.9" />
<line x1="722.50" y1="1678.50" x2="722.50" y2="1694.00" stroke="#000" stroke-width="4.9" />
<line x1="764.50" y1="1678.50" x2="764.50" y2="1694.00" stroke="#000" stroke-width="4.9" />
<line x1="805.00" y1="1678.50" x2="805.00" y2="1694.00" stroke="#000" stroke-width="4.9" />
<line x1="844.50" y1="1678.50" x2="844.50" y2="1694.00" stroke="#000" stroke-width="4.9" />
<text x="180.00" y="1724.10" font-size="27.77" text-anchor="middle" fill="#000">0</text>
<text x="338.50" y="1724.10" font-size="27.77" text-anchor="middle" fill="#000">2</text>
<text x="497.00" y="1724.10" font-size="27.77" text-anchor="middle" fill="#000">4</text>
<text x="655.00" y="1724.10" font-size="27.77" text-anchor="middle" fill="#000">6</text>
<text x="682.50" y="1724.10" font-size="27.77" text-anchor="middle" fill="#000">8</text>
<text x="722.50" y="1724.10" font-size="27.77" text-anchor="middle" fill="#000">12</text>
<text x="763.00" y="1724.10" font-size="27.77" text-anchor="middle" fill="#000">16</text>
<text x="803.00" y="1724.10" font-size="27.77" text-anchor="middle" fill="#000">20</text>
<text x="843.00" y="1724.10" font-size="27.77" text-anchor="middle" fill="#000">24</text>
<line x1="650.00" y1="1687.00" x2="667.50" y2="1670.00" stroke="#000" stroke-width="4.2" />
<line x1="671.50" y1="1687.00" x2="689.50" y2="1670.00" stroke="#000" stroke-width="4.2" />
<text x="117.10" y="1652.60" font-size="21.8" text-anchor="end" fill="#c8222a" stroke="#c8222a" stroke-width="0.45" textLength="39.2" lengthAdjust="spacingAndGlyphs">2000</text>
<text x="496.50" y="1760.70" font-size="31.03" text-anchor="middle" fill="#000" textLength="101.0" lengthAdjust="spacingAndGlyphs">Time(h)</text>
<text x="33.30" y="1498.90" font-size="29.4" text-anchor="middle" fill="#000" textLength="239.2" lengthAdjust="spacingAndGlyphs" transform="rotate(-90 33.30 1498.90)">Con(ng/mL)/Blood</text>
<line x1="1064.00" y1="1622.20" x2="1766.50" y2="1622.20" stroke="#cc1a22" stroke-width="3.4" stroke-dasharray="10.4 7.38" stroke-dashoffset="0.40"/>
<polyline points="1081.30,1667.00 1087.50,1420.50 1101.20,1433.20 1122.00,1554.20 1142.50,1589.50 1163.00,1569.20 1244.50,1549.20 1407.30,1587.30 1570.20,1604.30" fill="none" stroke="#1a1a1a" stroke-width="1.9" stroke-linejoin="round"/>
<polyline points="1597.60,1607.30 1676.70,1657.90 1755.30,1662.60" fill="none" stroke="#1a1a1a" stroke-width="1.9" stroke-linejoin="round"/>
<line x1="1087.50" y1="1378.70" x2="1087.50" y2="1461.20" stroke="#2a2a2a" stroke-width="1.9532" />
<line x1="1080.10" y1="1378.70" x2="1094.90" y2="1378.70" stroke="#2a2a2a" stroke-width="1.9532" />
<line x1="1080.10" y1="1461.20" x2="1094.90" y2="1461.20" stroke="#2a2a2a" stroke-width="1.9532" />
<line x1="1101.20" y1="1384.20" x2="1101.20" y2="1481.20" stroke="#2a2a2a" stroke-width="1.9532" />
<line x1="1093.80" y1="1384.20" x2="1108.60" y2="1384.20" stroke="#2a2a2a" stroke-width="1.9532" />
<line x1="1093.80" y1="1481.20" x2="1108.60" y2="1481.20" stroke="#2a2a2a" stroke-width="1.9532" />
<line x1="1122.00" y1="1530.50" x2="1122.00" y2="1578.00" stroke="#2a2a2a" stroke-width="1.9532" />
<line x1="1114.60" y1="1530.50" x2="1129.40" y2="1530.50" stroke="#2a2a2a" stroke-width="1.9532" />
<line x1="1114.60" y1="1578.00" x2="1129.40" y2="1578.00" stroke="#2a2a2a" stroke-width="1.9532" />
<line x1="1142.50" y1="1575.00" x2="1142.50" y2="1603.70" stroke="#2a2a2a" stroke-width="1.9532" />
<line x1="1135.10" y1="1575.00" x2="1149.90" y2="1575.00" stroke="#2a2a2a" stroke-width="1.9532" />
<line x1="1135.10" y1="1603.70" x2="1149.90" y2="1603.70" stroke="#2a2a2a" stroke-width="1.9532" />
<line x1="1163.00" y1="1545.00" x2="1163.00" y2="1593.20" stroke="#2a2a2a" stroke-width="1.9532" />
<line x1="1155.60" y1="1545.00" x2="1170.40" y2="1545.00" stroke="#2a2a2a" stroke-width="1.9532" />
<line x1="1155.60" y1="1593.20" x2="1170.40" y2="1593.20" stroke="#2a2a2a" stroke-width="1.9532" />
<line x1="1244.50" y1="1523.70" x2="1244.50" y2="1573.70" stroke="#2a2a2a" stroke-width="1.9532" />
<line x1="1237.10" y1="1523.70" x2="1251.90" y2="1523.70" stroke="#2a2a2a" stroke-width="1.9532" />
<line x1="1237.10" y1="1573.70" x2="1251.90" y2="1573.70" stroke="#2a2a2a" stroke-width="1.9532" />
<line x1="1407.30" y1="1568.60" x2="1407.30" y2="1604.80" stroke="#2a2a2a" stroke-width="1.9532" />
<line x1="1399.90" y1="1568.60" x2="1414.70" y2="1568.60" stroke="#2a2a2a" stroke-width="1.9532" />
<line x1="1399.90" y1="1604.80" x2="1414.70" y2="1604.80" stroke="#2a2a2a" stroke-width="1.9532" />
<line x1="1597.60" y1="1588.60" x2="1597.60" y2="1624.70" stroke="#2a2a2a" stroke-width="1.9532" />
<line x1="1590.20" y1="1588.60" x2="1605.00" y2="1588.60" stroke="#2a2a2a" stroke-width="1.9532" />
<line x1="1590.20" y1="1624.70" x2="1605.00" y2="1624.70" stroke="#2a2a2a" stroke-width="1.9532" />
<circle cx="1081.30" cy="1667.00" r="8.02" fill="#060606"/>
<circle cx="1087.50" cy="1420.50" r="8.02" fill="#060606"/>
<circle cx="1101.20" cy="1433.20" r="8.02" fill="#060606"/>
<circle cx="1122.00" cy="1554.20" r="8.02" fill="#060606"/>
<circle cx="1142.50" cy="1589.50" r="8.02" fill="#060606"/>
<circle cx="1163.00" cy="1569.20" r="8.02" fill="#060606"/>
<circle cx="1244.50" cy="1549.20" r="8.02" fill="#060606"/>
<circle cx="1407.30" cy="1587.30" r="8.02" fill="#060606"/>
<circle cx="1597.60" cy="1607.30" r="8.02" fill="#060606"/>
<circle cx="1676.70" cy="1657.90" r="8.02" fill="#060606"/>
<circle cx="1755.30" cy="1662.60" r="8.02" fill="#060606"/>
<line x1="1065.00" y1="1325.05" x2="1065.00" y2="1680.95" stroke="#000" stroke-width="5.0" />
<line x1="1048.30" y1="1327.50" x2="1065.00" y2="1327.50" stroke="#000" stroke-width="4.9" />
<text x="1042.90" y="1336.96" font-size="27.14" text-anchor="end" fill="#000">15000</text>
<line x1="1048.30" y1="1395.80" x2="1065.00" y2="1395.80" stroke="#000" stroke-width="4.9" />
<text x="1042.90" y="1405.26" font-size="27.14" text-anchor="end" fill="#000">12000</text>
<line x1="1048.30" y1="1463.30" x2="1065.00" y2="1463.30" stroke="#000" stroke-width="4.9" />
<text x="1042.90" y="1472.76" font-size="27.14" text-anchor="end" fill="#000">9000</text>
<line x1="1048.30" y1="1531.20" x2="1065.00" y2="1531.20" stroke="#000" stroke-width="4.9" />
<text x="1042.90" y="1540.66" font-size="27.14" text-anchor="end" fill="#000">6000</text>
<line x1="1048.30" y1="1599.10" x2="1065.00" y2="1599.10" stroke="#000" stroke-width="4.9" />
<text x="1042.90" y="1608.56" font-size="27.14" text-anchor="end" fill="#000">3000</text>
<line x1="1048.30" y1="1622.30" x2="1065.00" y2="1622.30" stroke="#000" stroke-width="4.9" />
<line x1="1048.30" y1="1667.00" x2="1065.00" y2="1667.00" stroke="#000" stroke-width="4.9" />
<text x="1042.90" y="1676.46" font-size="27.14" text-anchor="end" fill="#000">0</text>
<line x1="1062.90" y1="1678.30" x2="1574.00" y2="1678.30" stroke="#000" stroke-width="5.3" />
<line x1="1595.50" y1="1678.30" x2="1767.80" y2="1678.30" stroke="#000" stroke-width="5.3" />
<line x1="1081.30" y1="1678.30" x2="1081.30" y2="1694.00" stroke="#000" stroke-width="4.9" />
<line x1="1244.30" y1="1678.30" x2="1244.30" y2="1694.00" stroke="#000" stroke-width="4.9" />
<line x1="1407.00" y1="1678.30" x2="1407.00" y2="1694.00" stroke="#000" stroke-width="4.9" />
<line x1="1636.80" y1="1678.30" x2="1636.80" y2="1694.00" stroke="#000" stroke-width="4.9" />
<line x1="1675.50" y1="1678.30" x2="1675.50" y2="1694.00" stroke="#000" stroke-width="4.9" />
<line x1="1715.40" y1="1678.30" x2="1715.40" y2="1694.00" stroke="#000" stroke-width="3.2" />
<line x1="1754.00" y1="1678.30" x2="1754.00" y2="1694.00" stroke="#000" stroke-width="4.9" />
<text x="1081.30" y="1722.50" font-size="27.14" text-anchor="middle" fill="#000">0</text>
<text x="1244.30" y="1722.50" font-size="27.14" text-anchor="middle" fill="#000">2</text>
<text x="1407.00" y="1722.50" font-size="27.14" text-anchor="middle" fill="#000">4</text>
<text x="1568.70" y="1722.50" font-size="27.14" text-anchor="middle" fill="#000">6</text>
<text x="1596.40" y="1722.50" font-size="27.14" text-anchor="middle" fill="#000">8</text>
<text x="1635.60" y="1722.50" font-size="27.14" text-anchor="middle" fill="#000">12</text>
<text x="1675.50" y="1722.50" font-size="27.14" text-anchor="middle" fill="#000">16</text>
<text x="1714.10" y="1722.50" font-size="27.14" text-anchor="middle" fill="#000">20</text>
<text x="1753.30" y="1722.50" font-size="27.14" text-anchor="middle" fill="#000">24</text>
<line x1="1566.00" y1="1686.60" x2="1582.60" y2="1670.20" stroke="#000" stroke-width="4.2" />
<line x1="1587.00" y1="1686.60" x2="1603.80" y2="1670.20" stroke="#000" stroke-width="4.2" />
<text x="1042.10" y="1631.00" font-size="22" text-anchor="end" fill="#cc1a22" stroke="#cc1a22" stroke-width="0.45" textLength="39.0" lengthAdjust="spacingAndGlyphs">2000</text>
<text x="1413.65" y="1759.90" font-size="30.33" text-anchor="middle" fill="#000" textLength="98.7" lengthAdjust="spacingAndGlyphs">Time(h)</text>
<text x="961.50" y="1502.50" font-size="31.5" text-anchor="middle" fill="#000" textLength="201.8" lengthAdjust="spacingAndGlyphs" transform="rotate(-90 961.50 1502.50)">Con(ng/g)/Lung</text>
</svg>
</body></html>
